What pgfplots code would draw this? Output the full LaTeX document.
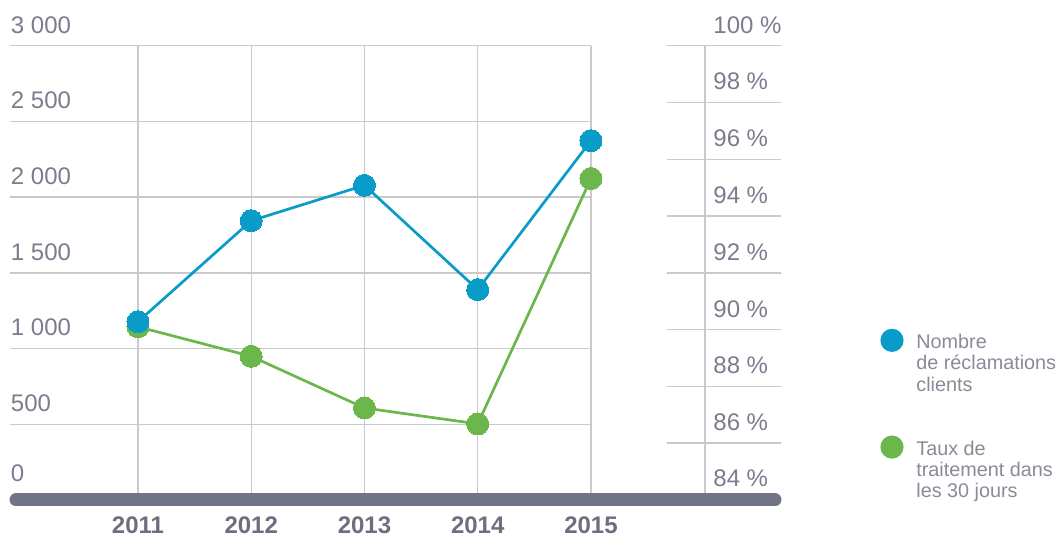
\documentclass[border=0pt]{standalone}
\usepackage{pgfplots}
\pgfplotsset{compat=1.18}
\usepackage{fontspec}
\setmainfont{Liberation Sans}
\definecolor{gridc}{HTML}{C9C9CE}
\definecolor{barc}{HTML}{717387}
\definecolor{labc}{HTML}{7C7C8E}
\definecolor{yearc}{HTML}{6E6E80}
\definecolor{legc}{HTML}{8A8A98}
\definecolor{bluec}{HTML}{0A9CC8}
\definecolor{greenc}{HTML}{6BB74C}
\pgfplotsset{base/.style={scale only axis, width=385.5pt, height=227.15pt,
  xmin=2009.870, xmax=2016.678, hide axis, clip=false}}
\tikzset{lab/.style={anchor=base west, inner sep=0pt, text=labc, font=\fontsize{12}{14}\selectfont},
  yr/.style={anchor=base, inner sep=0pt, text=yearc, font=\fontsize{12}{14}\selectfont\bfseries},
  gl/.style={gridc, line width=0.7pt}}
\begin{document}
\begin{tikzpicture}
% ---------- decoration axis (left scale) ----------
\begin{axis}[base, ymin=0, ymax=3000, name=A]
 \draw[gl] (axis cs:2009.870,500) -- (axis cs:2015,500);
 \draw[gl] (axis cs:2009.870,1000) -- (axis cs:2015,1000);
 \draw[gl] (axis cs:2009.870,1500) -- (axis cs:2015,1500);
 \draw[gl] (axis cs:2009.870,2000) -- (axis cs:2015,2000);
 \draw[gl] (axis cs:2009.870,2500) -- (axis cs:2015,2500);
 \draw[gl] (axis cs:2009.870,3000) -- (axis cs:2015,3000);
 \draw[gl] (axis cs:2011,0) -- (axis cs:2011,3000);
 \draw[gl] (axis cs:2012,0) -- (axis cs:2012,3000);
 \draw[gl] (axis cs:2013,0) -- (axis cs:2013,3000);
 \draw[gl] (axis cs:2014,0) -- (axis cs:2014,3000);
 \draw[gl] (axis cs:2015,0) -- (axis cs:2015,3000);
 % right scale lines (84..100 % mapped onto 0..3000)
 \draw[gl] (axis cs:2016.007,0) -- (axis cs:2016.007,3000);
 \draw[gl] (axis cs:2015.671,375) -- (axis cs:2016.678,375);
 \draw[gl] (axis cs:2015.671,750) -- (axis cs:2016.678,750);
 \draw[gl] (axis cs:2015.671,1125) -- (axis cs:2016.678,1125);
 \draw[gl] (axis cs:2015.671,1500) -- (axis cs:2016.678,1500);
 \draw[gl] (axis cs:2015.671,1875) -- (axis cs:2016.678,1875);
 \draw[gl] (axis cs:2015.671,2250) -- (axis cs:2016.678,2250);
 \draw[gl] (axis cs:2015.671,2625) -- (axis cs:2016.678,2625);
 \draw[gl] (axis cs:2015.671,3000) -- (axis cs:2016.678,3000);
 % base bar
 \draw[barc, line width=6.5pt, line cap=round] (axis cs:2009.923,0) -- (axis cs:2016.625,0);
 % left labels
 \node[lab] at (axis cs:2009.875,3000) [yshift=6.3pt] {3 000};
 \node[lab] at (axis cs:2009.875,2500) [yshift=6.3pt] {2 500};
 \node[lab] at (axis cs:2009.875,2000) [yshift=6.3pt] {2 000};
 \node[lab] at (axis cs:2009.875,1500) [yshift=6.3pt] {1 500};
 \node[lab] at (axis cs:2009.875,1000) [yshift=6.3pt] {1 000};
 \node[lab] at (axis cs:2009.875,500) [yshift=6.3pt] {500};
 \node[lab] at (axis cs:2009.875,0) [yshift=9.2pt] {0};
 % right labels
 \node[lab] at (axis cs:2016.007,3000) [xshift=4pt,yshift=5.9pt] {100 \%};
 \node[lab] at (axis cs:2016.007,2625) [xshift=4pt,yshift=6.3pt] {98 \%};
 \node[lab] at (axis cs:2016.007,2250) [xshift=4pt,yshift=6.3pt] {96 \%};
 \node[lab] at (axis cs:2016.007,1875) [xshift=4pt,yshift=6.3pt] {94 \%};
 \node[lab] at (axis cs:2016.007,1500) [xshift=4pt,yshift=6.3pt] {92 \%};
 \node[lab] at (axis cs:2016.007,1125) [xshift=4pt,yshift=6.3pt] {90 \%};
 \node[lab] at (axis cs:2016.007,750) [xshift=4pt,yshift=6.3pt] {88 \%};
 \node[lab] at (axis cs:2016.007,375) [xshift=4pt,yshift=6.3pt] {86 \%};
 \node[lab] at (axis cs:2016.007,0) [xshift=4pt,yshift=6.7pt] {84 \%};
 % years
 \node[yr] at (axis cs:2011,0) [yshift=-16.6pt] {2011};
 \node[yr] at (axis cs:2012,0) [yshift=-16.6pt] {2012};
 \node[yr] at (axis cs:2013,0) [yshift=-16.6pt] {2013};
 \node[yr] at (axis cs:2014,0) [yshift=-16.6pt] {2014};
 \node[yr] at (axis cs:2015,0) [yshift=-16.6pt] {2015};
\end{axis}
% ---------- green series (right scale) ----------
\begin{axis}[base, ymin=84, ymax=100]
 \addplot[greenc, line width=1.35pt, mark=*, mark size=5.5pt,
   mark options={fill=greenc, draw=greenc, line width=0pt}]
   coordinates {(2011,90.1) (2012,89.06) (2013,87.24) (2014,86.68) (2015,95.32)};
\end{axis}
% ---------- blue series (left scale) + legend ----------
\begin{axis}[base, ymin=0, ymax=3000,
  legend cell align=left,
  legend style={at={(1.1289,0.369)}, anchor=north west, draw=none, fill=none,
    inner sep=0pt, outer sep=0pt, row sep=0pt, column sep=5.9pt,
    font=\fontsize{9.9}{11}\selectfont, text=legc,
    cells={anchor=base west},
    nodes={inner xsep=0.5pt, inner ysep=0.5pt, text height=7.5pt, text depth=2.17pt}}]
 \addplot[bluec, line width=1.35pt, mark=*, mark size=5.5pt,
   mark options={fill=bluec, draw=bluec, line width=0pt},
   legend image code/.code={\path[draw=none, fill=none] (-5.8pt,0pt) rectangle (5.8pt,5pt);
     \fill[bluec, draw=none, overlay] (0pt,4pt) circle (5.8pt);}]
   coordinates {(2011,1177) (2012,1844) (2013,2078) (2014,1389) (2015,2373)};
 \addlegendentry{Nombre}
 \addlegendimage{empty legend}\addlegendentry{de réclamations}
 \addlegendimage{empty legend}\addlegendentry{clients}
 \addlegendimage{empty legend}\addlegendentry{\mbox{}}
 \addlegendimage{empty legend}\addlegendentry{\mbox{}}
 \addlegendimage{legend image code/.code={\path[draw=none, fill=none] (-5.8pt,0pt) rectangle (5.8pt,5pt);
     \fill[greenc, draw=none, overlay] (0pt,4pt) circle (5.8pt);}}\addlegendentry{Taux de}
 \addlegendimage{empty legend}\addlegendentry{traitement dans}
 \addlegendimage{empty legend}\addlegendentry{les 30 jours}
\end{axis}
\pgfresetboundingbox
\path[use as bounding box] ([shift={(-5pt,-18.5pt)}]A.south west) rectangle ([shift={(139.5pt,22.85pt)}]A.north east);
\end{tikzpicture}
\end{document}
